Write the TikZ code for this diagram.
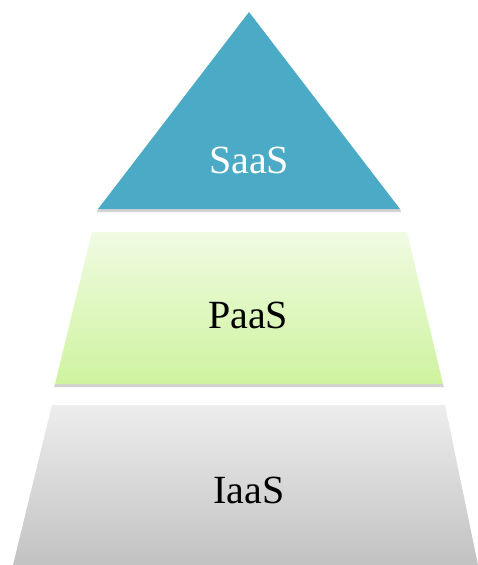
\documentclass[tikz,border=0pt]{standalone}
\usepackage{fontspec}
\setmainfont{Liberation Serif}
\definecolor{saasblue}{RGB}{75,170,197}
\definecolor{paastop}{RGB}{240,251,226}
\definecolor{paasbot}{RGB}{206,243,158}
\definecolor{iaastop}{RGB}{237,237,237}
\definecolor{iaasbot}{RGB}{194,194,194}
\tikzset{
  label/.style={font=\fontsize{40}{48}\selectfont},
  drop/.style={fill=black!35,opacity=0.5}
}
\begin{document}
\begin{tikzpicture}[x=1pt,y=-1pt]
\useasboundingbox (0,0) rectangle (478,565);

% shadows under the layers
\fill[drop] (98,209) -- (400,209) -- (401,212) -- (97,212) -- cycle;
\fill[drop] (55,384) -- (443,384) -- (444,387) -- (54,387) -- cycle;

% top: triangle
\fill[saasblue] (249,12) -- (400,209) -- (98,209) -- cycle;
% middle
\shade[top color=paastop,bottom color=paasbot]
  (92,232) -- (407,232) -- (443,384) -- (55,384) -- cycle;
% bottom
\shade[top color=iaastop,bottom color=iaasbot]
  (52,405) -- (445,405) -- (478,565) -- (13,565) -- cycle;

\node[label,white] (saas) at (249,160) {SaaS};
\node[label] (paas) at (248,315) {PaaS};
\node[label] (iaas) at (249,490) {IaaS};

\end{tikzpicture}
\end{document}
